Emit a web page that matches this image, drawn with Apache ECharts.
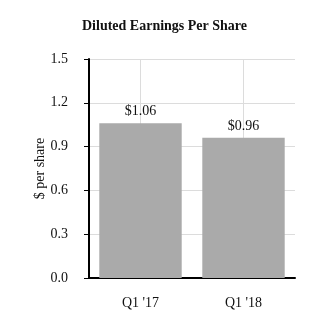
<!DOCTYPE html>
<html><head><meta charset="utf-8">
<script src="https://cdn.jsdelivr.net/npm/echarts@6/dist/echarts.min.js"></script>
<style>html,body{margin:0;padding:0;background:#fff}#c{width:329px;height:333px}</style>
</head><body><div id="c"></div>
<script>
const categories = ["Q1 '17", "Q1 '18"];
const epsValues = [1.06, 0.96];
const yTicks = [0.0, 0.3, 0.6, 0.9, 1.2, 1.5];
const chart = echarts.init(document.getElementById('c'), null, {renderer: 'canvas'});
const serif = '"Liberation Serif", "DejaVu Serif", serif';
chart.setOption({
  animation: false,
  backgroundColor: '#fff',
  title: {text: 'Diluted Earnings Per Share', left: 'center', top: 14,
    textStyle: {fontFamily: serif, fontSize: 14, fontWeight: 'bold', color: '#111'}},
  grid: {left: 89, right: 34, top: 59, bottom: 55},
  xAxis: {type: 'category', data: categories,
    axisLine: {lineStyle: {color: '#000', width: 2}},
    axisTick: {alignWithLabel: true, length: 5, lineStyle: {color: '#000'}},
    axisLabel: {margin: 18, fontFamily: serif, fontSize: 14, color: '#111'},
    splitLine: {show: false}},
  yAxis: {type: 'value', min: yTicks[0], max: yTicks[yTicks.length-1], interval: 0.3,
    name: '$ per share', nameLocation: 'middle', nameGap: 42, nameRotate: 90,
    nameMoveOverlap: false,
    nameTextStyle: {fontFamily: serif, fontSize: 14, color: '#111'},
    axisLine: {show: true, lineStyle: {color: '#000', width: 2}},
    axisTick: {show: true, length: 5, lineStyle: {color: '#000'}},
    axisLabel: {margin: 21, fontFamily: serif, fontSize: 14, color: '#111',
      formatter: v => v.toFixed(1)},
    splitLine: {show: true, lineStyle: {color: '#dcdcdc'}}},
  series: [
    {type: 'line', data: [], silent: true, z: 1,
      markLine: {silent: true, symbol: 'none', z: 1, label: {show: false},
        lineStyle: {color: '#dcdcdc', type: 'solid', width: 1},
        data: categories.map(c => ({xAxis: c}))}},
    {type: 'bar', data: epsValues, barWidth: '80%', z: 3,
    itemStyle: {color: '#aaaaaa'},
    label: {show: true, position: 'top', distance: 5, fontFamily: serif, fontSize: 14, color: '#111',
      formatter: p => '$' + p.value.toFixed(2)}}]
});
</script></body></html>
